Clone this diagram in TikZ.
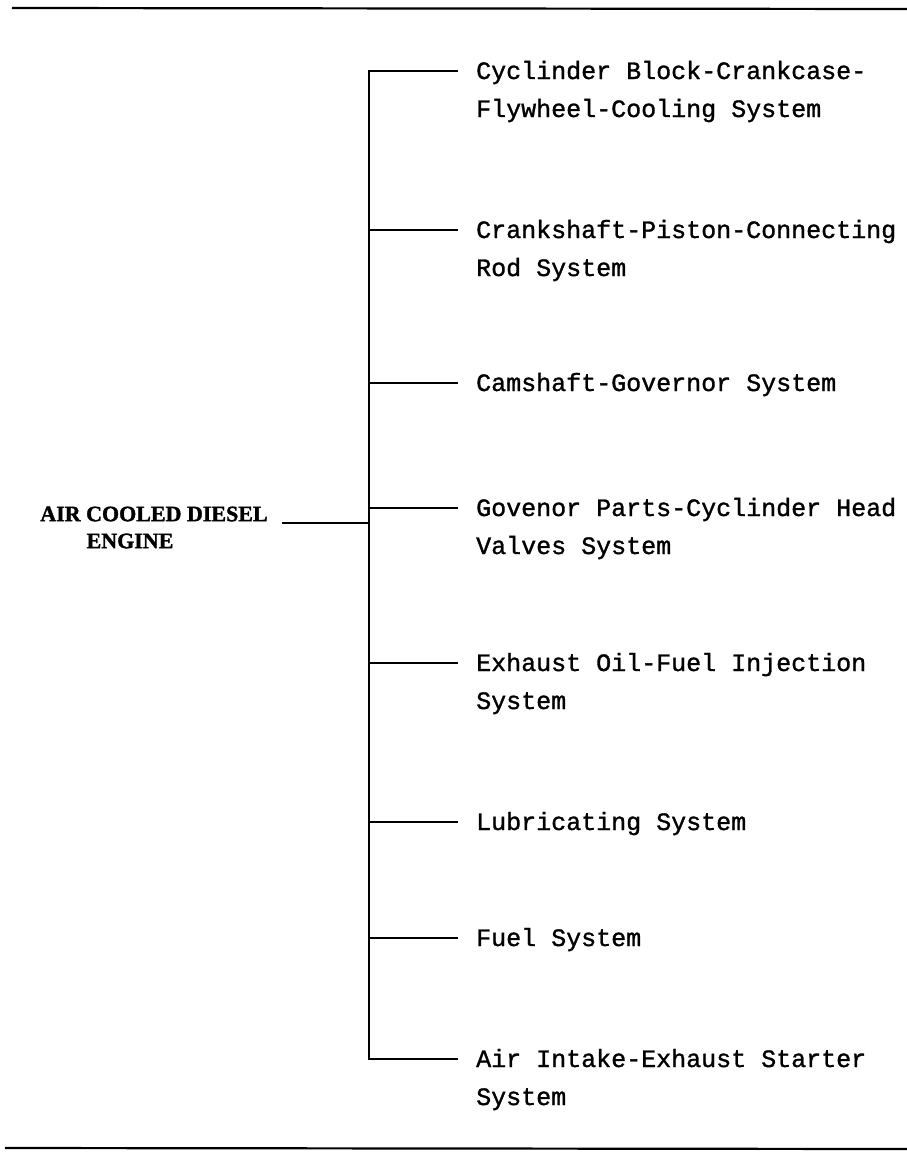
\documentclass[tikz,border=0pt]{standalone}
\usepackage{fontspec}
\newfontfamily\twfont[FakeBold=1.2]{Liberation Mono}
\newfontfamily\labfont[FakeBold=1.5]{Liberation Serif}
\newcommand\twoln[2]{\vtop{\baselineskip=38pt\hbox{#1}\hbox{#2}}}
\begin{document}
\begin{tikzpicture}[x=1pt,y=-1pt,
  rulestyle/.style={line width=2.2pt},
  treeline/.style={line width=2.8pt, line join=miter},
  branchline/.style={line width=2.5pt},
  item/.style={font=\twfont\fontsize{25}{38}\selectfont, anchor=base west, inner sep=0pt},
  titletext/.style={font=\labfont\bfseries\fontsize{22}{26}\selectfont, inner sep=0pt}]
\useasboundingbox (0,0) rectangle (907,1157);
% rules
\coordinate (r1a) at (12,8);
\coordinate (r1b) at (907,9);
\coordinate (r2a) at (5,1148);
\coordinate (r2b) at (907,1149);
\draw[rulestyle] (r1a) -- (r1b);
\draw[rulestyle] (r2a) -- (r2b);
% junctions and branch ends
\foreach \i/\y in {1/71,2/230,3/383,4/508,5/663,6/822,7/938,8/1059}{
  \coordinate (j\i) at (369,\y);
  \coordinate (b\i) at (458,\y);
}
\coordinate (hub) at (369,523);
\coordinate (m) at (282,523);
% items
\node[item] (t1) at (476,79) {\twoln{Cyclinder Block-Crankcase-}{Flywheel-Cooling System}};
\node[item] (t2) at (476,238) {\twoln{Crankshaft-Piston-Connecting}{Rod System}};
\node[item] (t3) at (476,391) {Camshaft-Governor System};
\node[item] (t4) at (476,516) {\twoln{Govenor Parts-Cyclinder Head}{Valves System}};
\node[item] (t5) at (476,671) {\twoln{Exhaust Oil-Fuel Injection}{System}};
\node[item] (t6) at (476,830) {Lubricating System};
\node[item] (t7) at (476,946) {Fuel System};
\node[item] (t8) at (476,1067) {\twoln{Air Intake-Exhaust Starter}{System}};
% title
\node[titletext] (title1) at (154,514) {AIR COOLED DIESEL};
\node[titletext] (title2) at (130,541) {ENGINE};
% connectors
\draw[treeline] (b1) -- (j1) -- (j8) -- (b8);
\foreach \i in {2,...,7}{\draw[branchline] (j\i) -- (b\i);}
\draw[branchline] (m) -- (hub);
\end{tikzpicture}
\end{document}
